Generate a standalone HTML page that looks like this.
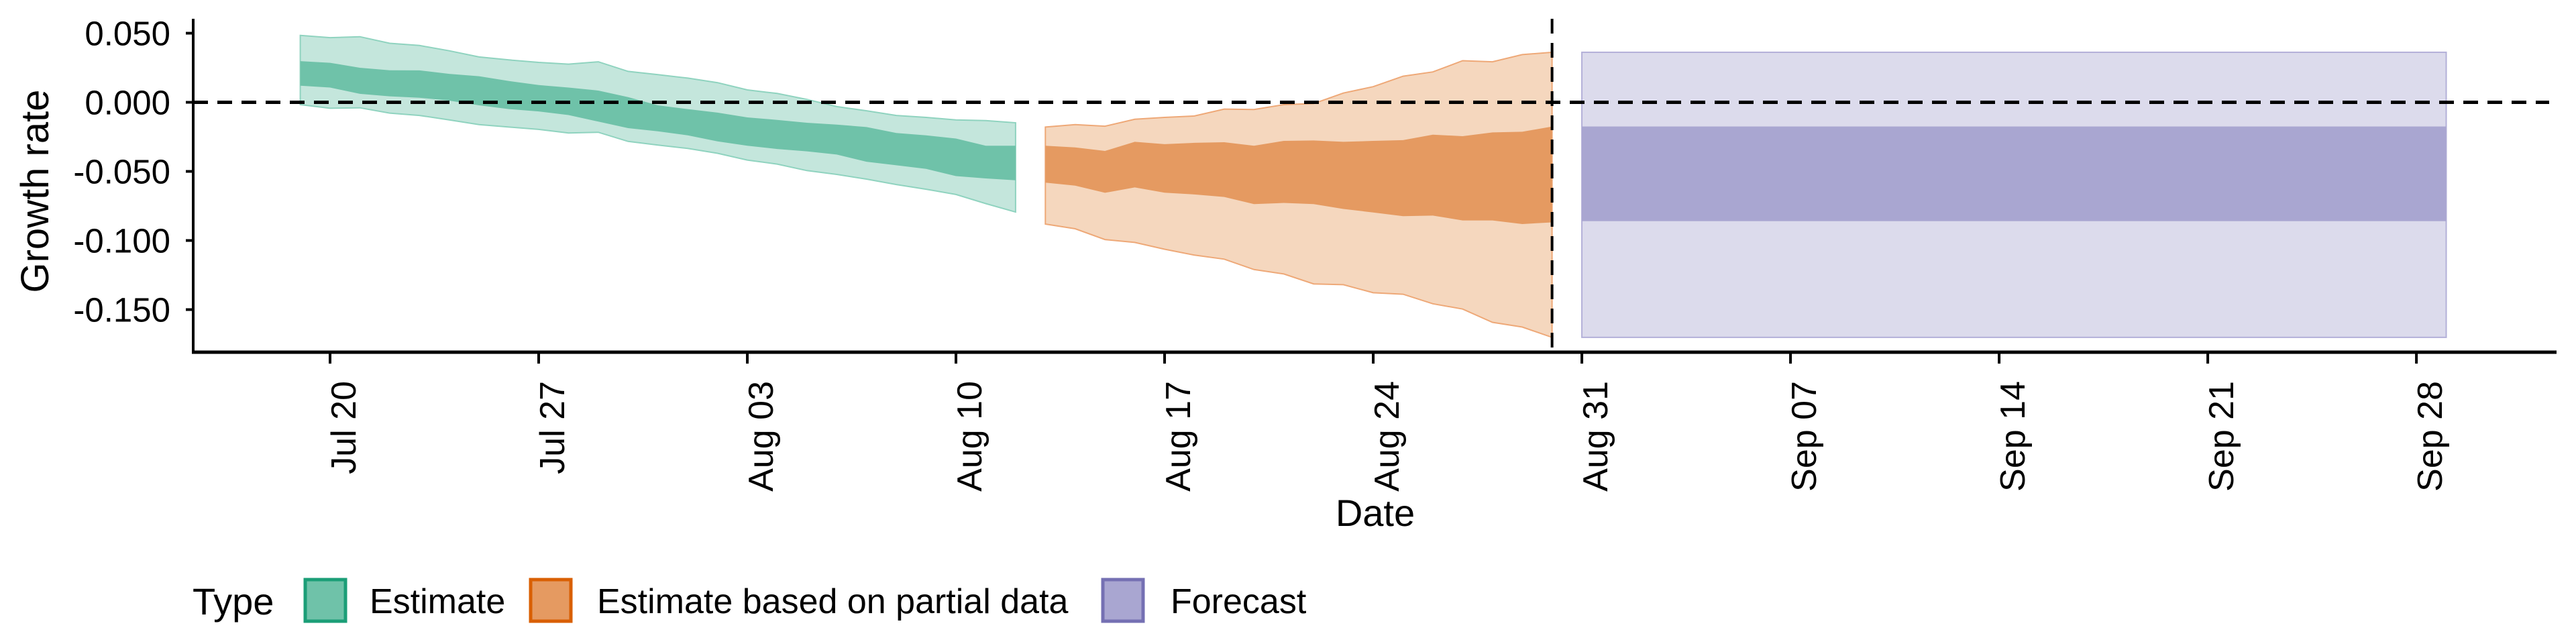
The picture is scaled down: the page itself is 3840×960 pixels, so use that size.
<!DOCTYPE html>
<html><head><meta charset="utf-8"><style>
html,body{margin:0;padding:0;background:#fff;}
svg{display:block;font-family:"Liberation Sans",sans-serif;}
</style></head><body>
<svg id="chart" width="3840" height="960" viewBox="0 0 3840 960" xmlns="http://www.w3.org/2000/svg">
<g id="marks"></g>
<g id="axes"></g>
<g id="legend"></g>
</svg>
<script>
// ---- data ----
const startDate = "2020-07-19";
const estUpper90 = [0.0484,0.0468,0.0475,0.0427,0.0411,0.0373,0.0328,0.0307,0.0289,0.0276,0.0293,0.0224,0.0200,0.0175,0.0142,0.0090,0.0064,0.0021,-0.0031,-0.0061,-0.0095,-0.0109,-0.0127,-0.0132,-0.0148];
const estUpper50 = [0.0298,0.0286,0.0250,0.0232,0.0231,0.0206,0.0189,0.0154,0.0125,0.0107,0.0085,0.0038,-0.0022,-0.0049,-0.0075,-0.0109,-0.0127,-0.0148,-0.0161,-0.0179,-0.0222,-0.0239,-0.0262,-0.0314,-0.0314];
const estLower50 = [0.0120,0.0107,0.0061,0.0043,0.0033,0.0012,-0.0022,-0.0049,-0.0066,-0.0092,-0.0140,-0.0187,-0.0210,-0.0239,-0.0283,-0.0314,-0.0338,-0.0355,-0.0378,-0.0430,-0.0456,-0.0482,-0.0534,-0.0551,-0.0564];
const estLower90 = [-0.0017,-0.0043,-0.0040,-0.0078,-0.0095,-0.0127,-0.0161,-0.0179,-0.0196,-0.0222,-0.0217,-0.0283,-0.0309,-0.0334,-0.0369,-0.0418,-0.0447,-0.0494,-0.0522,-0.0556,-0.0595,-0.0629,-0.0667,-0.0733,-0.0794];
const partialStartDay = 25;
const partUpper90 = [-0.0179,-0.0161,-0.0173,-0.0123,-0.0109,-0.0099,-0.0049,-0.0052,-0.0017,-0.0009,0.0067,0.0113,0.0189,0.0220,0.0301,0.0293,0.0345,0.0362];
const partUpper50 = [-0.0314,-0.0326,-0.0352,-0.0286,-0.0303,-0.0293,-0.0289,-0.0314,-0.0279,-0.0276,-0.0286,-0.0279,-0.0274,-0.0234,-0.0245,-0.0218,-0.0213,-0.0175];
const partLower50 = [-0.0581,-0.0603,-0.0655,-0.0616,-0.0654,-0.0667,-0.0685,-0.0737,-0.0728,-0.0737,-0.0772,-0.0797,-0.0824,-0.0820,-0.0855,-0.0855,-0.0881,-0.0869];
const partLower90 = [-0.0881,-0.0915,-0.0993,-0.1014,-0.1063,-0.1106,-0.1135,-0.1210,-0.1242,-0.1314,-0.1320,-0.1378,-0.1389,-0.1458,-0.1496,-0.1592,-0.1626,-0.1701];
const forecastDays = [43, 72];
const forecastBands = [0.0362, -0.0175, -0.0860, -0.1701];
const forecastCutDay = 42;
const yTicks = [0.05, 0, -0.05, -0.1, -0.15];
const yTickLabels = ["0.050","0.000","-0.050","-0.100","-0.150"];
const xTickDays = [1,8,15,22,29,36,43,50,57,64,71];
const xTickLabels = ["Jul 20","Jul 27","Aug 03","Aug 10","Aug 17","Aug 24","Aug 31","Sep 07","Sep 14","Sep 21","Sep 28"];
const legendLabels = ["Estimate","Estimate based on partial data","Forecast"];

// ---- scales ----
const X0 = 492, DAY = 44.43;   // pixel of day 1 (Jul 20)
const xs = d => X0 + (d - 1) * DAY;
const ys = v => 152.5 - v * 2060;
const NS = "http://www.w3.org/2000/svg";
const marks = document.getElementById('marks');
const axes = document.getElementById('axes');
const legend = document.getElementById('legend');
function mk(tag, parent, attrs){const e=document.createElementNS(NS,tag);for(const k in attrs)e.setAttribute(k,attrs[k]);parent.appendChild(e);return e;}

function ribbon(upper, lower, d0, fill, stroke, name){
  let pts=[];
  for(let i=0;i<upper.length;i++)pts.push(xs(d0+i).toFixed(1)+','+ys(upper[i]).toFixed(1));
  for(let i=lower.length-1;i>=0;i--)pts.push(xs(d0+i).toFixed(1)+','+ys(lower[i]).toFixed(1));
  const p=mk('polygon',marks,{points:pts.join(' '),fill:fill,stroke:stroke,'stroke-width':2});
  
  
}
ribbon(estUpper90, estLower90, 0, '#c4e6dc', '#8fd3bf', 'estimate-90-band');
ribbon(estUpper50, estLower50, 0, '#6fc2a9', 'none', 'estimate-50-band');
ribbon(partUpper90, partLower90, partialStartDay, '#f5d7be', '#eea877', 'partial-90-band');
ribbon(partUpper50, partLower50, partialStartDay, '#e59a61', 'none', 'partial-50-band');
const fx0 = xs(forecastDays[0]), fx1 = xs(forecastDays[1]);
const fo=mk('rect',marks,{x:fx0,y:ys(forecastBands[0]),width:fx1-fx0,height:ys(forecastBands[3])-ys(forecastBands[0]),fill:'#dcdbec',stroke:'#b3b0d8','stroke-width':2});


const fi=mk('rect',marks,{x:fx0,y:ys(forecastBands[1]),width:fx1-fx0,height:ys(forecastBands[2])-ys(forecastBands[1]),fill:'#a9a6d1'});



// reference lines
const hz=mk('line',marks,{x1:288,x2:3800,y1:ys(0),y2:ys(0),stroke:'#000','stroke-width':5,'stroke-dasharray':'22 14'});


const vl=mk('line',marks,{x1:xs(forecastCutDay),x2:xs(forecastCutDay),y1:28,y2:525,stroke:'#000','stroke-width':4,'stroke-dasharray':'22 14'});



// axes
const ya=mk('line',axes,{x1:288,x2:288,y1:28,y2:527,stroke:'#000','stroke-width':4});


const xa=mk('line',axes,{x1:286,x2:3811,y1:525,y2:525,stroke:'#000','stroke-width':5});


yTicks.forEach((v,i)=>{
  const t=mk('line',axes,{x1:277,x2:288,y1:ys(v),y2:ys(v),stroke:'#000','stroke-width':4});
  
  
  const l=mk('text',axes,{x:254,y:ys(v)+18,'text-anchor':'end','font-size':51,fill:'#000'});
  l.textContent=yTickLabels[i];
  
  
});
xTickDays.forEach((d,i)=>{
  const x=xs(d);
  const t=mk('line',axes,{x1:x,x2:x,y1:525,y2:542,stroke:'#000','stroke-width':4});
  
  
  const l=mk('text',axes,{x:0,y:0,'text-anchor':'end','font-size':52,fill:'#000',transform:`translate(${x+38},568) rotate(-90)`});
  l.textContent=xTickLabels[i];
  
  
});
const yt=mk('text',axes,{x:0,y:0,'text-anchor':'middle','font-size':58,fill:'#000',transform:'translate(72,285) rotate(-90)'});
yt.textContent='Growth rate';


const xt=mk('text',axes,{x:2050,y:784,'text-anchor':'middle','font-size':56,fill:'#000'});
xt.textContent='Date';



// legend
const lt=mk('text',legend,{x:287,y:916,'font-size':56,fill:'#000'});
lt.textContent='Type';


const keyX=[455,791,1644], txtX=[551,890,1745];
const keyFill=['#6fc2a9','#e59a61','#a9a6d1'], keyStroke=['#1b9e77','#d95f02','#7570b3'];
legendLabels.forEach((s,i)=>{
  const r=mk('rect',legend,{x:keyX[i],y:864,width:60,height:62,fill:keyFill[i],stroke:keyStroke[i],'stroke-width':5});
  
  
  const t=mk('text',legend,{x:txtX[i],y:914,'font-size':52,fill:'#000'});
  t.textContent=s;
  
  
});
</script>
</body></html>
